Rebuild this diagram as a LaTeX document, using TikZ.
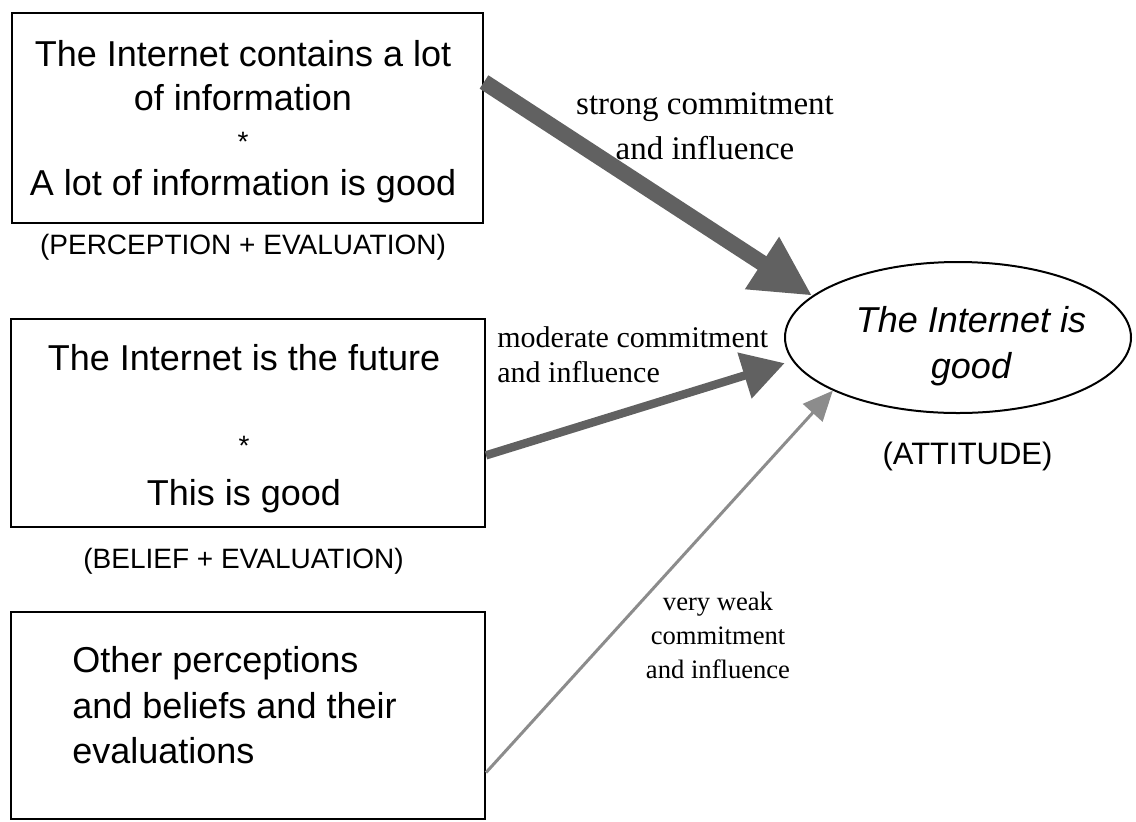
\documentclass[tikz,border=0pt]{standalone}
\usepackage{fontspec}
\setmainfont{Liberation Serif}
\setsansfont{Liberation Sans}
\usetikzlibrary{calc}
\usetikzlibrary{arrows.meta}
\usetikzlibrary{shapes.geometric}
\tikzset{
  stmt/.style={draw, line width=1pt, minimum width=237pt, inner sep=0},
  stmttext/.style={inner sep=0, font=\sffamily\fontsize{18}{22}\selectfont},
  kind/.style={inner sep=0, font=\sffamily\fontsize{14}{16}\selectfont},
  strongarr/.style={line width=8pt, black!62, -{Triangle[width=29pt,length=30pt]}},
  modarr/.style={line width=4.2pt, black!62, -{Triangle[width=23pt,length=21pt]}, shorten >=4pt},
  weakarr/.style={line width=1.5pt, black!45, -{Triangle[width=13pt,length=15pt]}}
}
\newcommand{\boxstar}{{\fontsize{14}{14}\selectfont *}}

\begin{document}
\begin{tikzpicture}[x=0.5pt,y=-0.5pt]
\useasboundingbox (0,0) rectangle (1136,821);

\node[stmt, minimum width=235.5pt, minimum height=105pt] (box1) at (247.5,118) {};
\node[stmt, minimum height=104pt] (box2) at (248,423) {};
\node[stmt, minimum height=103.5pt] (box3) at (248,715.5) {};
\node[draw, ellipse, line width=1pt, minimum width=173pt, minimum height=75.5pt, inner sep=0] (att) at (958,337.5) {};

\node[stmttext, anchor=north, align=center] (perc1) at (243,40) {The Internet contains a lot\\of information\\[-1.5pt]\boxstar\\A lot of information is good};
\node[kind] (perc) at (243,247) {(PERCEPTION + EVALUATION)};

\node[stmttext, anchor=north, align=center] (bel1) at (244,344) {The Internet is the future\\[20.5pt]\boxstar\\[3pt]This is good};
\node[kind] (bel) at (243.5,561.5) {(BELIEF + EVALUATION)};

\node[stmttext, anchor=north west, align=left, font=\sffamily\fontsize{18}{22.75}\selectfont] (other) at (72,646) {Other perceptions\\and beliefs and their\\evaluations};

\node[inner sep=0, anchor=north, align=center, font=\sffamily\itshape\fontsize{18}{23}\selectfont] (atttext) at (971,306) {The Internet is\\good};
\node[inner sep=0, font=\sffamily\fontsize{15.5}{18}\selectfont] (attlbl) at (967.5,456) {(ATTITUDE)};

\draw[strongarr] ($(box1.north east)!.33!(box1.south east)$) -- (att.164);
\draw[modarr] ($(box2.north east)!.654!(box2.south east)$) -- (att.188);
\draw[weakarr] ($(box3.north east)!.773!(box3.south east)$) -- (att.203);

\node[anchor=north, align=center, inner sep=0, font=\rmfamily\fontsize{16.5}{22.5}\selectfont] (strong) at (705,92.5) {strong commitment\\and influence};
\node[anchor=north west, align=left, inner sep=0, font=\rmfamily\fontsize{15}{17.5}\selectfont] (moderate) at (497,326.5) {moderate commitment\\and influence};
\node[anchor=north, align=center, inner sep=0, font=\rmfamily\fontsize{13.3}{17}\selectfont] (weak) at (718,592) {very weak\\commitment\\and influence};
\end{tikzpicture}
\end{document}
